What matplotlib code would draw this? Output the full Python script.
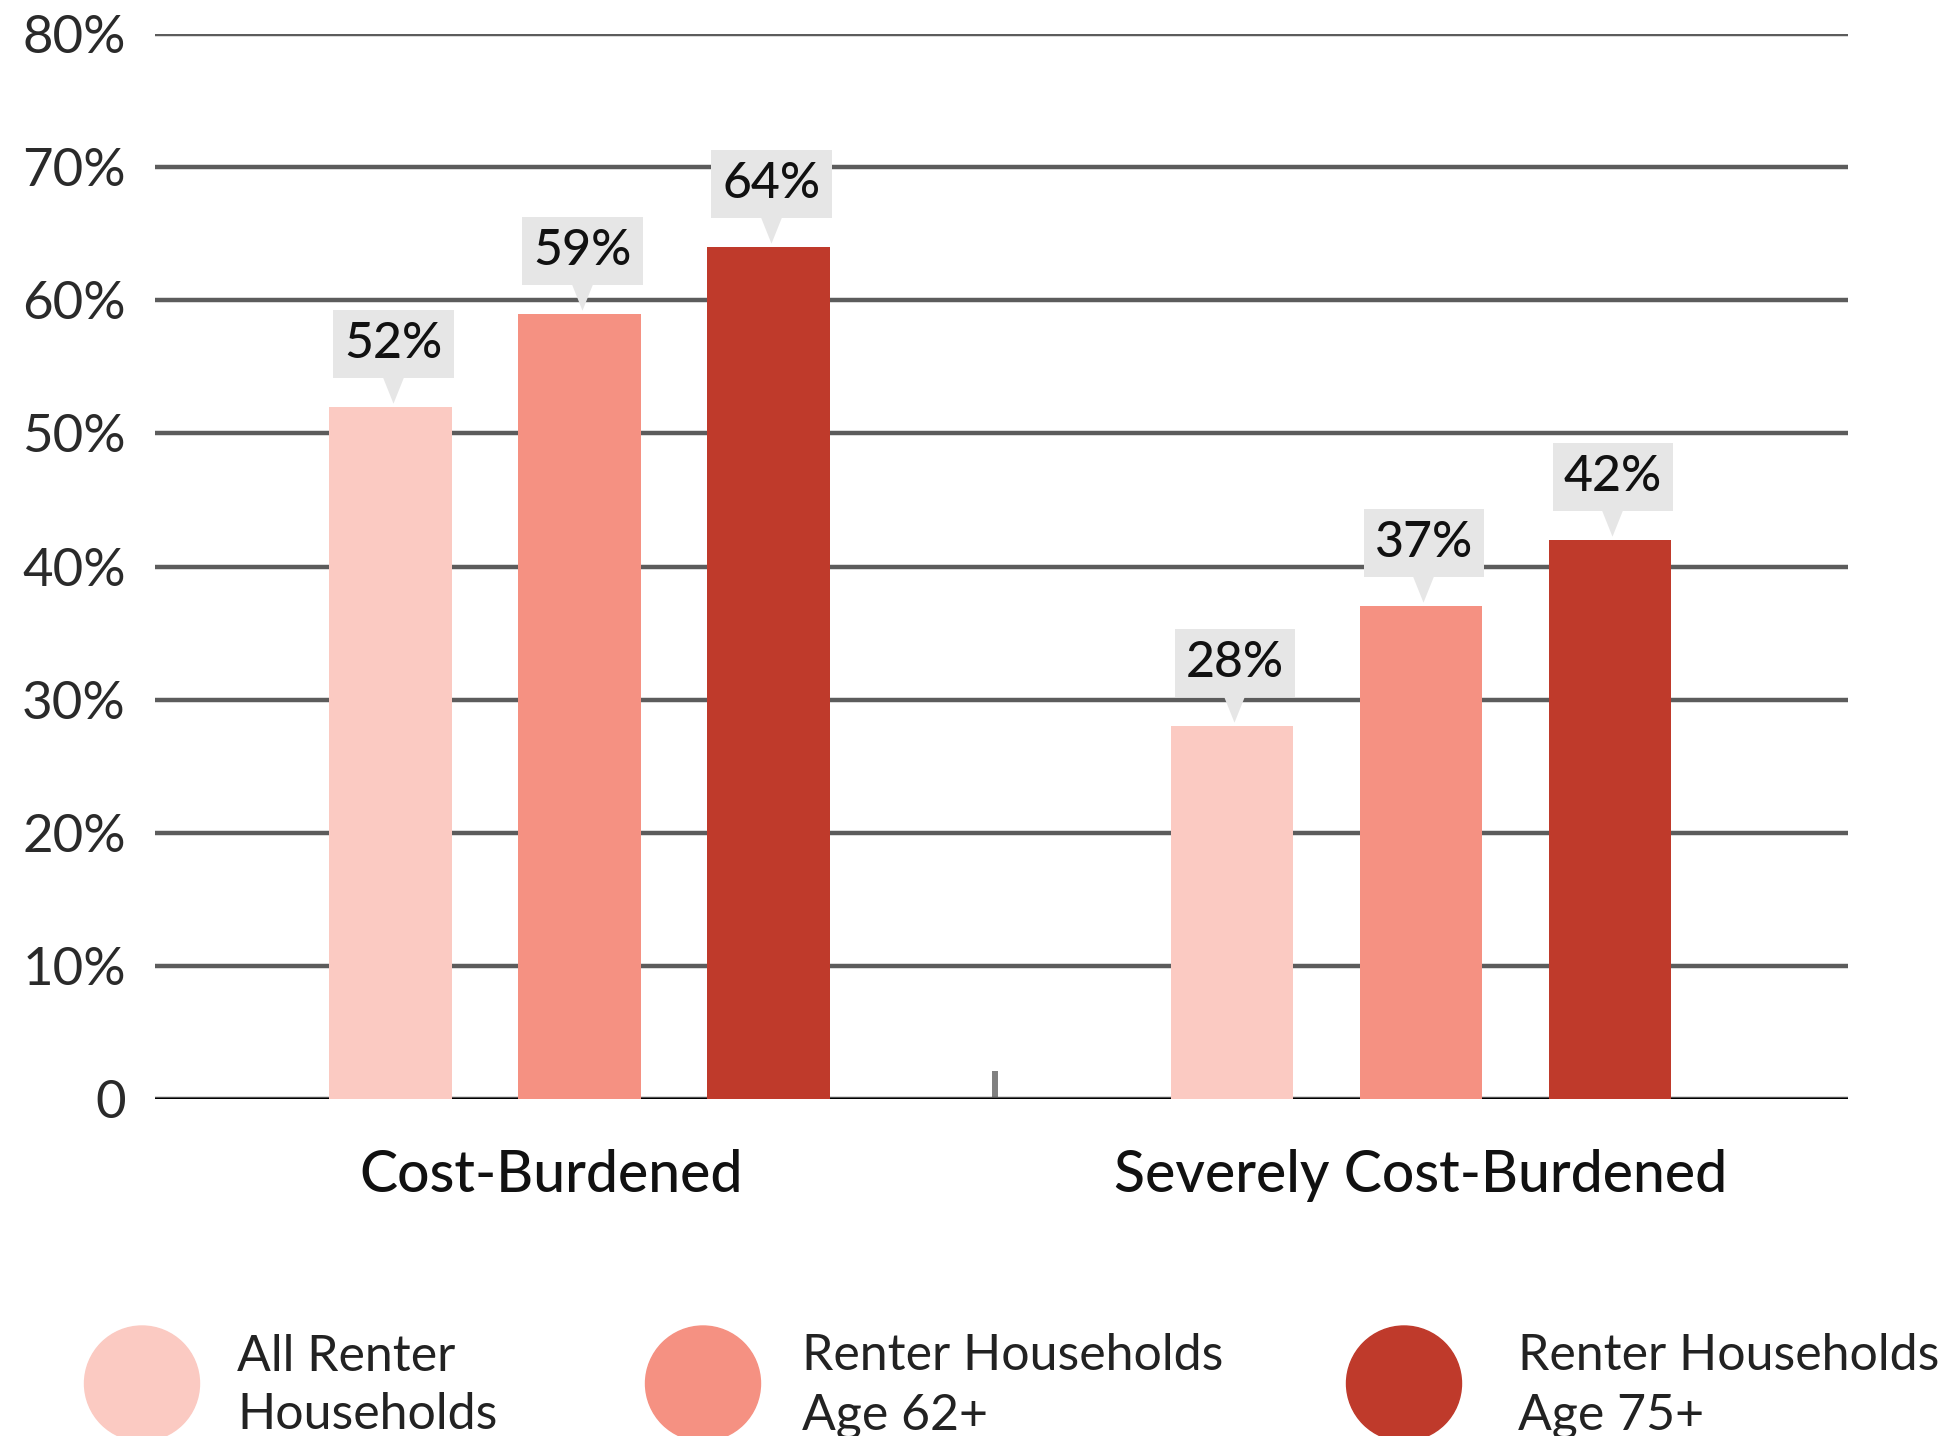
import matplotlib
matplotlib.use("Agg")
import matplotlib.pyplot as plt
import numpy as np
from matplotlib.patches import Ellipse
from matplotlib.transforms import offset_copy, IdentityTransform

plt.rcParams["font.family"] = ["Lato", "DejaVu Sans"]

# data
categories = ["Cost-Burdened", "Severely Cost-Burdened"]
series = ["All Renter\nHouseholds", "Renter Households\nAge 62+", "Renter Households\nAge 75+"]
all_renters = [52, 28]
age_62 = [59, 37]
age_75 = [64, 42]
yticks = [0, 10, 20, 30, 40, 50, 60, 70, 80]
ytick_labels = ["0", "10%", "20%", "30%", "40%", "50%", "60%", "70%", "80%"]

colors = ["#fbcac2", "#f59182", "#bf3a2b"]
W, H = 1941, 1436

fig = plt.figure(figsize=(W / 100, H / 100), dpi=100)
ax = fig.add_axes([155 / W, 1 - 1099 / H, 1693 / W, (1099 - 34) / H])

x = np.arange(len(categories))
width = 0.1456
step = 0.2246
values = [all_renters, age_62, age_75]

for i, (vals, col) in enumerate(zip(values, colors)):
    xs = x + (i - 1) * step
    ax.bar(xs, vals, width=width, color=col, zorder=2)
    # pointer triangle under each value box
    tri = offset_copy(ax.transData, fig=fig, x=2, y=17, units="dots")
    ptr = [(-0.4, 0.5), (0.4, 0.5), (0, -0.5), (-0.4, 0.5)]
    ax.plot(xs, vals, ls="none", marker=ptr, ms=19, color="#e6e6e6",
            mec="none", transform=tri, zorder=3)
    for xi, v in zip(xs, vals):
        ax.annotate(f"{v}%", xy=(xi, v), xytext=(3, 63), textcoords="offset pixels",
                    ha="center", va="center", fontsize=36, fontweight="medium",
                    color="#111111", zorder=4,
                    bbox=dict(boxstyle="square,pad=0.22", fc="#e6e6e6", ec="none"))

ax.set_xlim(-0.5045, 1.5074)
ax.set_ylim(0, 80)
ax.set_yticks(yticks)
ax.set_yticklabels(ytick_labels)
ax.set_xticks(x)
ax.set_xticklabels(categories)
ax.set_xticks([0.494], minor=True)
ax.tick_params(axis="y", length=0, pad=21, labelsize=38, labelcolor="#2a2a2a")
ax.tick_params(axis="x", which="major", length=0, pad=36, labelsize=41, labelcolor="#111111")
ax.tick_params(axis="x", which="minor", direction="in", length=20, width=4.3, color="#808080")
for lab in ax.get_xticklabels():
    lab.set_fontweight("medium")
# first category label sits a little left of its group in the original
xlabs = ax.get_xticklabels()
xlabs[0].set_transform(xlabs[0].get_transform()
                       + offset_copy(IdentityTransform(), fig=fig, x=-28, y=0, units="dots"))

for s in ax.spines.values():
    s.set_visible(False)
ax.set_axisbelow(True)
ax.yaxis.grid(True, color="#5c5c5c", lw=3.2)
ax.axhline(0, color="black", lw=2.3, zorder=1)

# legend with big circles
circle_x = [142, 703, 1404]
text_x = [237, 802, 1518]
for cx, tx, col, lab in zip(circle_x, text_x, colors, series):
    fig.add_artist(Ellipse((cx / W, 1 - 1383.5 / H), 115 / W, 115 / H,
                           transform=fig.transFigure, color=col))
    fig.text(tx / W, 1 - 1386 / H, lab, ha="left", va="center", fontsize=36,
             color="#222222", linespacing=1.35)

fig.savefig("out.png", dpi=100)
